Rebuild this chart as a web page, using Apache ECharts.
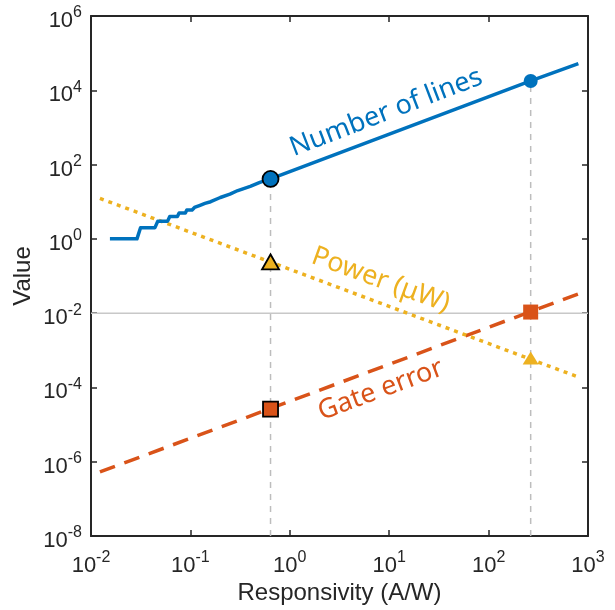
<!DOCTYPE html>
<html>
<head>
<meta charset="utf-8">
<script src="https://cdn.jsdelivr.net/npm/echarts@6/dist/echarts.min.js"></script>
<style>
  html, body { margin: 0; padding: 0; background: #fff; }
  #chart { width: 615px; height: 610px; }
</style>
</head>
<body>
<div id="chart"></div>
<script>
  // ==== data ====
  // number of lines vs responsivity (staircase at the low end)
  const linesR = [0.0155, 0.029, 0.0315, 0.044, 0.047, 0.059, 0.062, 0.074, 0.077, 0.089, 0.092, 0.104,
    0.11, 0.125, 0.14, 0.16, 0.2, 0.25, 0.3, 0.4, 0.5, 0.64, 265, 800]
  const linesN = [1, 1, 2, 2, 3, 3, 4, 4, 5, 5, 6, 6,
    7, 8, 9, 10, 13, 16, 20, 26, 33, 41, 17800, 52000]

  const powerR = [0.0123, 800]
  const powerUW = [12.3, 1.9e-4]

  const gateR = [0.0123, 800]
  const gateErr = [5.3e-7, 0.033]

  // highlighted operating points
  const markR = [0.64, 265]
  const markLines = [41, 17800]
  const markPower = [0.24, 6.2e-4]
  const markGate = [2.6e-5, 0.0107]

  const refLevel = 0.01

  const xTickExp = [-2, -1, 0, 1, 2, 3]
  const yTickExp = [-8, -6, -4, -2, 0, 2, 4, 6]

  const labelText = ['Number of lines', 'Power (μW)', 'Gate error']
  const labelR = [9.3, 8.2, 8.2]
  const labelV = [2500, 0.078, 8.5e-5]

  // ==== styles ====
  const BLUE = '#0072BD'
  const ORANGE = '#D95319'
  const YELLOW = '#EDB120'
  const AXIS = '#262626'
  const GUIDE = '#bdbdbd'
  const TICK_FONT = 'Liberation Sans, Arial, sans-serif'
  const LABEL_FONT = 'Noto Sans, sans-serif'
  const labelColor = [BLUE, YELLOW, ORANGE]
  const labelAngle = [21, -20, 20.4]

  const zip = (xs, ys) => xs.map((x, i) => [x, ys[i]])

  const powLabel = (value) => {
    const e = Math.round(Math.log10(value))
    return '{b|10}{s|' + e + '}'
  }
  const tickRich = {
    b: { fontFamily: TICK_FONT, fontSize: 22, lineHeight: 32, color: AXIS },
    s: { fontFamily: TICK_FONT, fontSize: 16, lineHeight: 12, verticalAlign: 'top', color: AXIS }
  }

  const logAxis = (extra) => Object.assign({
    type: 'log',
    logBase: 10,
    axisLine: { show: true, onZero: false, lineStyle: { color: AXIS, width: 2 } },
    axisTick: { show: true, inside: true, length: 6, lineStyle: { color: AXIS, width: 1.5 } },
    splitLine: { show: false },
    minorTick: { show: false }
  }, extra)

  const xMin = Math.pow(10, xTickExp[0])
  const xMax = Math.pow(10, xTickExp[xTickExp.length - 1])
  const yMin = Math.pow(10, yTickExp[0])
  const yMax = Math.pow(10, yTickExp[yTickExp.length - 1])

  const marker = (symbol, size, color, x, y, edge) => ({
    type: 'scatter', z: 5, symbol, symbolSize: size,
    data: [[x, y]],
    itemStyle: edge
      ? { color, opacity: 1, borderColor: '#000', borderWidth: 1.8 }
      : { color, opacity: 1 }
  })

  const chart = echarts.init(document.getElementById('chart'), null, { renderer: 'canvas' })

  chart.setOption({
    animation: false,
    backgroundColor: '#fff',
    grid: { left: 91, right: 27, top: 16, bottom: 74 },
    xAxis: [
      logAxis({
        min: xMin, max: xMax, interval: 1,
        name: 'Responsivity (A/W)',
        nameLocation: 'middle',
        nameGap: 45,
        nameMoveOverlap: false,
        nameTextStyle: { fontFamily: TICK_FONT, fontSize: 24, color: AXIS },
        axisLabel: { margin: 14, formatter: powLabel, rich: tickRich }
      }),
      logAxis({ min: xMin, max: xMax, interval: 1, position: 'top', axisLabel: { show: false } })
    ],
    yAxis: [
      logAxis({
        min: yMin, max: yMax, interval: 2,
        name: 'Value',
        nameLocation: 'middle',
        nameGap: 56,
        nameMoveOverlap: false,
        nameTextStyle: { fontFamily: TICK_FONT, fontSize: 24, color: AXIS },
        axisLabel: { margin: 9, padding: [10, 0, 0, 0], formatter: powLabel, rich: tickRich }
      }),
      logAxis({ min: yMin, max: yMax, interval: 2, position: 'right', axisLabel: { show: false } })
    ],
    series: [
      {
        type: 'line', name: 'ref', z: 1, symbol: 'none',
        data: [[xMin, refLevel], [xMax, refLevel]],
        lineStyle: { color: '#c8c8c8', width: 1.5 }
      },
      ...markR.map((r, i) => ({
        type: 'line', name: 'guide' + i, z: 1, symbol: 'none',
        data: [[r, yMin], [r, markLines[i]]],
        lineStyle: { color: GUIDE, width: 1.5, type: [6, 6] }
      })),
      {
        type: 'line', name: 'Gate error', z: 2, symbol: 'none',
        data: zip(gateR, gateErr),
        lineStyle: { color: ORANGE, width: 3.5, type: [16, 10] }
      },
      {
        type: 'line', name: 'Power', z: 2, symbol: 'none',
        data: zip(powerR, powerUW),
        lineStyle: { color: YELLOW, width: 3.5, type: [4, 5] }
      },
      {
        type: 'line', name: 'Number of lines', z: 3, symbol: 'none',
        data: zip(linesR, linesN),
        lineStyle: { color: BLUE, width: 3.5, join: 'round' }
      },
      // markers with black edge at the left point, plain ones at the right point
      marker('circle', 16, BLUE, markR[0], markLines[0], true),
      marker('triangle', [17, 15], YELLOW, markR[0], markPower[0], true),
      marker('rect', 15, ORANGE, markR[0], markGate[0], true),
      marker('circle', 14, BLUE, markR[1], markLines[1], false),
      marker('triangle', [16, 13], YELLOW, markR[1], markPower[1], false),
      marker('rect', 15, ORANGE, markR[1], markGate[1], false)
    ]
  })

  // ==== in-plot text labels placed in data coordinates ====
  const graphics = labelText.map((text, i) => {
    const [px, py] = chart.convertToPixel({ gridIndex: 0 }, [labelR[i], labelV[i]])
    return {
      type: 'text',
      x: px,
      y: py,
      rotation: labelAngle[i] * Math.PI / 180,
      z: 10,
      style: {
        text,
        x: 0,
        y: 0,
        align: 'center',
        verticalAlign: 'middle',
        fill: labelColor[i],
        font: '27px ' + LABEL_FONT
      }
    }
  })
  chart.setOption({ graphic: graphics })
</script>
</body>
</html>
